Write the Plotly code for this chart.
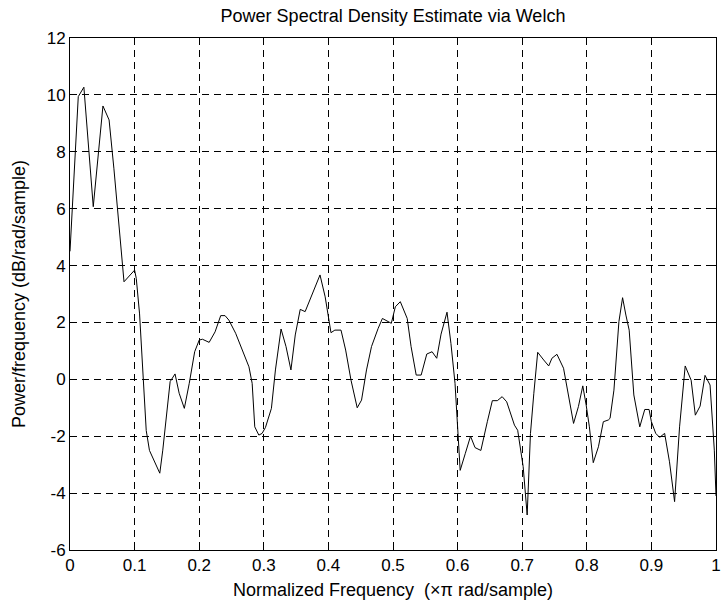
import plotly.graph_objects as go

# Normalized frequency (x pi rad/sample)
freq = [0.0, 0.0128, 0.0215, 0.036, 0.051, 0.0605, 0.068, 0.076, 0.0836, 0.1,
        0.1026, 0.1077, 0.113, 0.118, 0.123, 0.129, 0.139, 0.1436, 0.149, 0.155,
        0.1626, 0.169, 0.177, 0.1846, 0.193, 0.2, 0.205, 0.2154, 0.2246, 0.2333,
        0.24, 0.246, 0.2564, 0.2667, 0.277, 0.282, 0.286, 0.2923, 0.2974, 0.3026,
        0.3118, 0.318, 0.3267, 0.3344, 0.342, 0.3487, 0.3564, 0.364, 0.3733, 0.387,
        0.395, 0.4, 0.404, 0.41, 0.4195, 0.4267, 0.435, 0.4446, 0.4513, 0.459,
        0.4667, 0.477, 0.4836, 0.4974, 0.5036, 0.5113, 0.522, 0.528, 0.5359, 0.5436,
        0.5523, 0.5605, 0.5677, 0.5744, 0.5836, 0.5897, 0.596, 0.6, 0.604, 0.612,
        0.62, 0.627, 0.636, 0.646, 0.6538, 0.6615, 0.669, 0.676, 0.683, 0.688,
        0.693, 0.7015, 0.7077, 0.7128, 0.718, 0.724, 0.7333, 0.741, 0.746, 0.7538,
        0.764, 0.7718, 0.7795, 0.787, 0.7938, 0.799, 0.804, 0.810, 0.818, 0.8256,
        0.8333, 0.836, 0.842, 0.8497, 0.8554, 0.8605, 0.8656, 0.8728, 0.882, 0.8897,
        0.8964, 0.9, 0.9067, 0.9128, 0.9205, 0.928, 0.9359, 0.9436, 0.9523, 0.9615,
        0.968, 0.9754, 0.983, 0.9908, 0.9974, 1.0]

# Power/frequency (dB/rad/sample)
psd = [4.5, 9.94, 10.27, 6.07, 9.61, 9.12, 7.4, 5.4, 3.43, 3.84,
       3.55, 2.3, 0.0, -1.8, -2.5, -2.8, -3.3, -2.49, -1.3, -0.08,
       0.19, -0.49, -1.02, -0.14, 0.97, 1.38, 1.41, 1.30, 1.67, 2.24,
       2.24, 2.08, 1.62, 1.03, 0.44, -0.14, -1.67, -1.96, -1.90, -1.69,
       -1.02, 0.33, 1.77, 1.15, 0.33, 1.56, 2.46, 2.38, 2.90, 3.67,
       2.90, 2.2, 1.64, 1.73, 1.73, 1.03, -0.03, -1.0, -0.73, 0.33,
       1.15, 1.79, 2.14, 1.97, 2.55, 2.73, 2.14, 1.15, 0.15, 0.15,
       0.89, 0.97, 0.74, 1.59, 2.36, 1.26, -0.14, -1.67, -3.2, -2.6,
       -2.0, -2.4, -2.5, -1.49, -0.75, -0.75, -0.61, -0.79, -1.32, -1.61,
       -1.79, -3.07, -4.77, -1.90, -0.49, 0.95, 0.68, 0.47, 0.74, 0.88,
       0.39, -0.55, -1.55, -0.96, -0.23, -0.90, -1.67, -2.93, -2.37, -1.49,
       -1.43, -1.37, -0.38, 2.03, 2.87, 2.26, 1.73, -0.55, -1.67, -1.06,
       -1.06, -1.49, -1.90, -2.04, -1.90, -2.9, -4.30, -1.67, 0.47, -0.03,
       -1.26, -0.94, 0.14, -0.20, -2.49, -4.1]

x_ticks = [0, 0.1, 0.2, 0.3, 0.4, 0.5, 0.6, 0.7, 0.8, 0.9, 1]
x_tick_labels = ["0", "0.1", "0.2", "0.3", "0.4", "0.5", "0.6", "0.7", "0.8", "0.9", "1"]
y_ticks = [-6, -4, -2, 0, 2, 4, 6, 8, 10, 12]
y_tick_labels = ["-6", "-4", "-2", "0", "2", "4", "6", "8", "10", "12"]

title_text = "Power Spectral Density Estimate via Welch"
x_title = "Normalized Frequency  (\u00d7\u03c0 rad/sample)"
y_title = "Power/frequency (dB/rad/sample)"

FONT = "Arial, Liberation Sans, Helvetica, sans-serif"

fig = go.Figure()
fig.add_trace(go.Scatter(x=freq, y=psd, mode="lines",
                         line=dict(color="black", width=1), showlegend=False))

axis_common = dict(
    showline=True, linecolor="black", linewidth=1, mirror="ticks",
    ticks="inside", ticklen=5, tickcolor="black", tickwidth=1,
    showgrid=True, gridcolor="black", gridwidth=1, griddash="7px,5px",
    zeroline=False, tickfont=dict(family=FONT, size=17, color="black"),
    ticklabeloverflow="allow", automargin=False,
)

fig.update_xaxes(range=[0, 1], tickvals=x_ticks, ticktext=x_tick_labels,
                 title=dict(text=x_title, font=dict(family=FONT, size=18, color="black"),
                            standoff=8),
                 **axis_common)
fig.update_yaxes(range=[-6, 12], tickvals=y_ticks, ticktext=y_tick_labels,
                 title=dict(text=y_title, font=dict(family=FONT, size=18, color="black"),
                            standoff=16),
                 **axis_common)

fig.update_layout(
    width=722, height=605,
    margin=dict(l=70, r=6, t=38, b=55),
    paper_bgcolor="white", plot_bgcolor="white",
    title=dict(text=title_text, x=0.5, xref="paper", y=1 - 16 / 605,
               yanchor="middle", font=dict(family=FONT, size=18, color="black")),
    font=dict(family=FONT, size=17, color="black"),
)

fig.write_html("out.html")
